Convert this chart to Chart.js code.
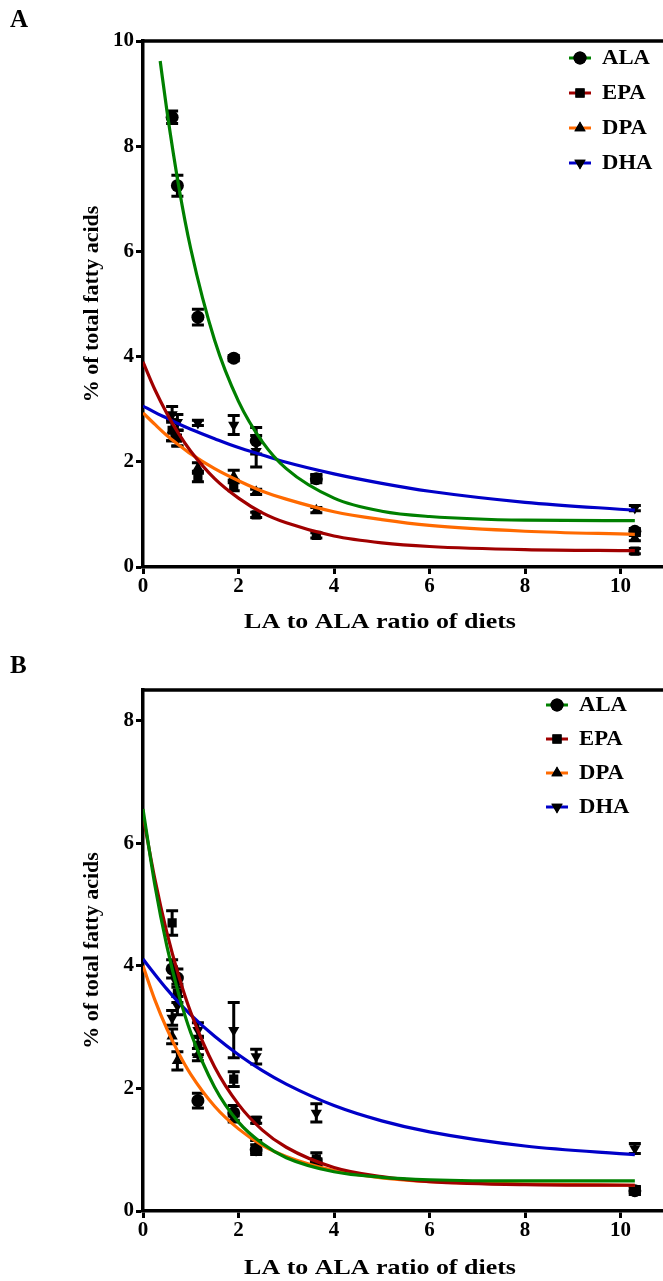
<!DOCTYPE html>
<html>
<head>
<meta charset="utf-8">
<script src="https://cdn.jsdelivr.net/npm/chart.js@4.4.0/dist/chart.umd.min.js"></script>
<style>
html,body{margin:0;padding:0;background:#fff;overflow:hidden;}
#wrap{position:relative;width:663px;height:1281px;overflow:hidden;}
.pane{position:absolute;left:0;width:663px;overflow:hidden;}
</style>
</head>
<body>
<div id="wrap">
  <div class="pane" style="top:0;height:640px;"><canvas id="cA" width="670" height="640"></canvas></div>
  <div class="pane" style="top:640px;height:641px;"><canvas id="cB" width="670" height="641"></canvas></div>
</div>
<script>
// ---- categories / x values ----
const seriesNames = ['ALA', 'EPA', 'DPA', 'DHA'];
const dietRatio = [0.61, 0.72, 1.15, 1.9, 2.37, 3.63, 10.3];
const xTicks = [0, 2, 4, 6, 8, 10];
const yTicksA = [0, 2, 4, 6, 8, 10];
const yTicksB = [0, 2, 4, 6, 8];

// ---- Panel A: measured means and errors ----
const alaA = [8.55, 7.25, 4.75, 3.97, 2.4, 1.68, 0.68];
const epaA = [2.6, 2.45, 1.72, 1.55, 0.99, 0.6, 0.3];
const dpaA = [2.6, 2.45, 1.88, 1.72, 1.43, 1.08, 0.55];
const dhaA = [2.9, 2.75, 2.74, 2.7, 2.2, 1.7, 1.12];
const alaAErr = [0.12, 0.2, 0.15, 0.05, 0.25, 0.08, 0.05];
const epaAErr = [0.2, 0.15, 0.1, 0.1, 0.05, 0.05, 0.05];
const dpaAErr = [0.2, 0.15, 0.1, 0.12, 0.05, 0.05, 0.05];
const dhaAErr = [0.15, 0.15, 0.05, 0.18, 0.3, 0.05, 0.05];

// ---- Panel B: measured means and errors ----
const alaB = [3.95, 3.8, 1.8, 1.6, 1.0, 0.8, 0.33];
const epaB = [4.7, 3.55, 2.7, 2.15, 1.48, 0.85, 0.35];
const dpaB = [2.85, 2.45, 2.55, 1.5, 1.05, 0.8, 0.32];
const dhaB = [3.15, 3.35, 2.95, 2.95, 2.52, 1.6, 1.02];
const alaBErr = [0.15, 0.15, 0.12, 0.12, 0.08, 0.05, 0.06];
const epaBErr = [0.2, 0.15, 0.15, 0.12, 0.05, 0.1, 0.05];
const dpaBErr = [0.12, 0.15, 0.1, 0.05, 0.1, 0.05, 0.05];
const dhaBErr = [0.12, 0.15, 0.12, 0.45, 0.12, 0.15, 0.08];

// ---- fitted curves ----
const curveX = [0, 0.25, 0.5, 0.75, 1, 1.5, 2, 2.5, 3, 4, 5, 6, 8, 10.3];
const curveXalaA = [0.36, 0.5, 0.75, 1, 1.5, 2, 2.5, 3, 4, 5, 6, 8, 10.3];
const fitAlaA = [9.62, 8.68, 7.23, 6.05, 4.31, 3.15, 2.38, 1.87, 1.31, 1.06, 0.96, 0.89, 0.88];
const fitEpaA = [3.90, 3.37, 2.92, 2.53, 2.20, 1.68, 1.31, 1.03, 0.84, 0.59, 0.46, 0.39, 0.33, 0.31];
const fitDpaA = [2.93, 2.71, 2.50, 2.32, 2.15, 1.87, 1.64, 1.44, 1.29, 1.05, 0.90, 0.79, 0.68, 0.62];
const fitDhaA = [3.06, 2.94, 2.83, 2.72, 2.62, 2.44, 2.27, 2.13, 1.99, 1.77, 1.59, 1.44, 1.23, 1.08];
const fitAlaB = [6.56, 5.31, 4.32, 3.53, 2.91, 2.02, 1.45, 1.10, 0.87, 0.64, 0.55, 0.51, 0.49, 0.49];
const fitEpaB = [6.45, 5.41, 4.54, 3.83, 3.24, 2.35, 1.74, 1.32, 1.04, 0.71, 0.56, 0.48, 0.43, 0.42];
const fitDpaB = [4.00, 3.44, 2.97, 2.57, 2.23, 1.71, 1.34, 1.07, 0.89, 0.66, 0.54, 0.48, 0.44, 0.42];
const fitDhaB = [4.11, 3.86, 3.62, 3.40, 3.20, 2.85, 2.55, 2.29, 2.07, 1.72, 1.47, 1.29, 1.06, 0.92];

const COLORS = {ALA: '#008000', EPA: '#a00000', DPA: '#ff6a00', DHA: '#0000c8'};
const SHAPES = {ALA: ['circle', 0], EPA: ['rect', 0], DPA: ['triangle', 0], DHA: ['triangle', 180]};
const FONT = '"Liberation Serif", "Times New Roman", serif';

function pts(xs, ys) { return xs.map((x, i) => ({x: x, y: ys[i]})); }

function curveDs(name, xs, ys) {
  return {type: 'line', label: name + ' fit', data: pts(xs, ys), borderColor: COLORS[name],
    borderWidth: 3.2, pointRadius: 0, cubicInterpolationMode: 'monotone', fill: false};
}
function pointDs(name, ys, errs) {
  return {type: 'scatter', label: name, data: pts(dietRatio, ys), errs: errs,
    pointStyle: SHAPES[name][0], rotation: SHAPES[name][1], pointRadius: 6.5,
    backgroundColor: '#000', borderColor: '#000', borderWidth: 0, showLine: false};
}

const errorBars = {
  id: 'errorBars',
  beforeDatasetsDraw(chart) {
    const ctx = chart.ctx, xs = chart.scales.x, ys = chart.scales.y;
    ctx.save();
    ctx.strokeStyle = '#000'; ctx.lineWidth = 3; ctx.lineCap = 'butt';
    chart.data.datasets.forEach(ds => {
      if (!ds.errs) return;
      ds.data.forEach((p, i) => {
        const e = ds.errs[i];
        const px = xs.getPixelForValue(p.x);
        const top = ys.getPixelForValue(p.y + e), bot = ys.getPixelForValue(p.y - e);
        ctx.beginPath();
        ctx.moveTo(px, top); ctx.lineTo(px, bot);
        ctx.moveTo(px - 6, top); ctx.lineTo(px + 6, top);
        ctx.moveTo(px - 6, bot); ctx.lineTo(px + 6, bot);
        ctx.stroke();
      });
    });
    ctx.restore();
  }
};

function wideText(ctx, text, x, y, sx) {
  ctx.save();
  ctx.translate(x, y);
  ctx.scale(sx, 1);
  ctx.fillText(text, 0, 0);
  ctx.restore();
}

const decor = {
  id: 'decor',
  afterDraw(chart) {
    const o = chart.options.plugins.decor;
    const ctx = chart.ctx, ca = chart.chartArea;
    ctx.save();
    // top frame line
    ctx.strokeStyle = '#000'; ctx.lineWidth = 3.5;
    ctx.beginPath(); ctx.moveTo(ca.left - 1.5, ca.top); ctx.lineTo(chart.width, ca.top); ctx.stroke();
    ctx.fillStyle = '#000';
    // panel letter
    ctx.font = 'bold 25px ' + FONT; ctx.textBaseline = 'middle'; ctx.textAlign = 'left';
    ctx.fillText(o.letter, o.letterX, o.letterY);
    // x title
    ctx.font = 'bold 22px ' + FONT; ctx.textAlign = 'center';
    wideText(ctx, 'LA to ALA ratio of diets', o.xTitleX, o.xTitleY, 1.18);
    // y title
    ctx.save();
    ctx.translate(o.yTitleX, (ca.top + ca.bottom) / 2);
    ctx.rotate(-Math.PI / 2);
    ctx.font = 'bold 22px ' + FONT; ctx.textAlign = 'center'; ctx.textBaseline = 'middle';
    ctx.fillText('% of total fatty acids', 0, 0);
    ctx.restore();
    // legend
    ctx.font = 'bold 21px ' + FONT; ctx.textAlign = 'left'; ctx.textBaseline = 'middle';
    seriesNames.forEach((n, i) => {
      const y = o.legY + i * o.legDy;
      ctx.strokeStyle = COLORS[n]; ctx.lineWidth = 3;
      ctx.beginPath(); ctx.moveTo(o.legX - 11, y); ctx.lineTo(o.legX + 11, y); ctx.stroke();
      ctx.fillStyle = '#000';
      Chart.helpers.drawPoint(ctx, {pointStyle: SHAPES[n][0], rotation: SHAPES[n][1], radius: 6.5, borderWidth: 0}, o.legX, y);
      ctx.fill();
      wideText(ctx, n, o.legX + 22, y + 1, 1.08);
    });
    ctx.restore();
  }
};

function makeChart(id, cfg) {
  const tickFont = {family: FONT, size: 21, weight: 'bold'};
  return new Chart(document.getElementById(id), {
    data: {datasets: cfg.datasets},
    plugins: [errorBars, decor],
    options: {
      responsive: false, animation: false,
      layout: {padding: {top: cfg.padTop, right: 0, left: 0, bottom: 0}},
      plugins: {legend: {display: false}, tooltip: {enabled: false}, decor: cfg.decor},
      scales: {
        x: {type: 'linear', min: 0, max: 10.9,
          afterFit: s => { s.height = cfg.xAxisH; },
          afterBuildTicks: s => { s.ticks = xTicks.map(v => ({value: v})); },
          ticks: {color: '#000', font: tickFont, padding: 0, maxRotation: 0},
          grid: {drawOnChartArea: false, drawTicks: true, tickLength: 7, tickWidth: 3, color: '#000'},
          border: {color: '#000', width: 3.5}},
        y: {type: 'linear', min: 0, max: cfg.yMax,
          afterFit: s => { s.width = 143; },
          afterBuildTicks: s => { s.ticks = cfg.yTicks.map(v => ({value: v})); },
          ticks: {color: '#000', font: tickFont, padding: 2},
          grid: {drawOnChartArea: false, drawTicks: true, tickLength: 7, tickWidth: 3, color: '#000'},
          border: {color: '#000', width: 3.5}}
      }
    }
  });
}

makeChart('cA', {
  padTop: 41, xAxisH: 73, yMax: 10, yTicks: yTicksA,
  decor: {letter: 'A', letterX: 10, letterY: 21, xTitleX: 380, xTitleY: 622, yTitleX: 92, legX: 580, legY: 58, legDy: 35},
  datasets: [
    curveDs('ALA', curveXalaA, fitAlaA), curveDs('EPA', curveX, fitEpaA),
    curveDs('DPA', curveX, fitDpaA), curveDs('DHA', curveX, fitDhaA),
    pointDs('ALA', alaA, alaAErr), pointDs('EPA', epaA, epaAErr),
    pointDs('DPA', dpaA, dpaAErr), pointDs('DHA', dhaA, dhaAErr)
  ]
});
makeChart('cB', {
  padTop: 50, xAxisH: 70, yMax: 8.5, yTicks: yTicksB,
  decor: {letter: 'B', letterX: 10, letterY: 27, xTitleX: 380, xTitleY: 628, yTitleX: 92, legX: 557, legY: 65, legDy: 34},
  datasets: [
    curveDs('ALA', curveX, fitAlaB), curveDs('EPA', curveX, fitEpaB),
    curveDs('DPA', curveX, fitDpaB), curveDs('DHA', curveX, fitDhaB),
    pointDs('ALA', alaB, alaBErr), pointDs('EPA', epaB, epaBErr),
    pointDs('DPA', dpaB, dpaBErr), pointDs('DHA', dhaB, dhaBErr)
  ]
});
</script>
</body>
</html>
